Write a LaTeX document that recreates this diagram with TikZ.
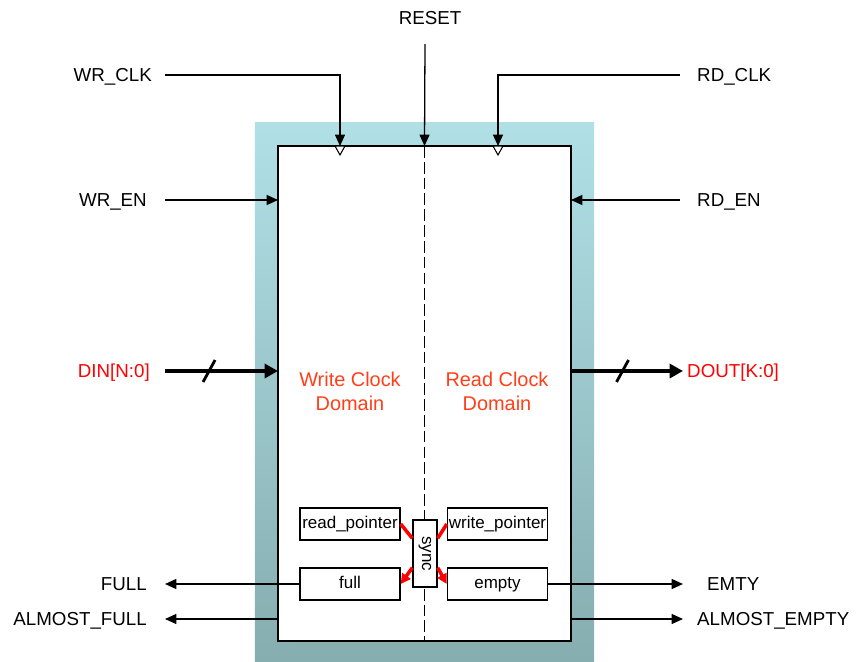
\documentclass[tikz,border=0pt]{standalone}
\usepackage{fontspec}
\setmainfont{Liberation Sans}
\usetikzlibrary{arrows.meta, positioning, calc}
\definecolor{frametop}{HTML}{B0E0E6}
\definecolor{framebot}{HTML}{86ADB0}
\definecolor{busred}{HTML}{FF0000}
\definecolor{domred}{HTML}{FF3F1A}

\begin{document}
\begin{tikzpicture}[
  x=0.03cm, y=-0.03cm,
  lbl/.style={font=\fontsize{16}{19}\selectfont, text height=0.41cm, text depth=0pt, inner ysep=0pt},
  lblL/.style={lbl, anchor=east, inner xsep=#1},
  lblR/.style={lbl, anchor=west, inner xsep=#1},
  part/.style={draw, line width=1.2pt, fill=white, minimum width=3cm, minimum height=0.96cm, inner sep=0pt, text height=0.33cm, text depth=0.08cm, font=\fontsize{14.5}{17}\selectfont},
  domlabel/.style={align=center, text=domred, font=\fontsize{17}{20.4}\selectfont},
  sig/.style={line width=1.1pt},
  bus/.style={line width=3.4pt},
  redline/.style={draw=busred, line width=3pt},
  >={Triangle[length=3.4mm, width=3mm]}
]
\useasboundingbox (0,0) rectangle (856,661);

% FIFO body
\node[minimum width=10.17cm, minimum height=16.14cm, inner sep=0pt, outer sep=0pt, top color=frametop, bottom color=framebot] (frame) at (424.5,392) {};
\node[draw, line width=1.4pt, fill=white, minimum width=8.79cm, minimum height=14.85cm, inner sep=0pt, outer sep=0pt] (fifo) at (424.5,393.5) {};
\draw[line width=1.3pt, dash pattern=on 10pt off 3.5pt] (fifo.north) -- (fifo.south);

\node[domlabel] (wrdom) at (350,391) {Write Clock\\Domain};
\node[domlabel] (rddom) at (497,391) {Read Clock\\Domain};

% pointers and flags
\node[part] (rdptr) at (350,524) {read\_pointer};
\node[part] (wrptr) at (497.5,524) {write\_pointer};
\node[part] (full) at (350,584) {full};
\node[part] (empty) at (497.5,584) {empty};
\node[draw, line width=1.2pt, fill=white, minimum width=0.72cm, minimum height=2.01cm, inner sep=0pt] (sync) at (425,553.5) {};
\node[rotate=-90, font=\fontsize{14.5}{17}\selectfont] (synctxt) at (sync) {sync};

\draw[redline] (rdptr.east) -- ($(sync.north west)+(0,19)$);
\draw[redline, -{Triangle[length=3mm, width=3mm]}] ($(sync.south west)+(0,-20)$) -- (full.east);
\draw[redline] (wrptr.west) -- ($(sync.north east)+(0,19)$);
\draw[redline, -{Triangle[length=3mm, width=3mm]}] ($(sync.south east)+(0,-20)$) -- (empty.west);

% clocks and reset
\node[lbl] (reset) at (430,18) {RESET};
\coordinate (rsttop) at (425,44);
\draw[sig, ->] (rsttop) -- (fifo.north);

\node[lblL=0.39cm] (wrclk) at (165,75) {WR\_CLK};
\node[lblR=0.51cm] (rdclk) at (680,75) {RD\_CLK};
\coordinate (wrtick) at (340,146);
\coordinate (rdtick) at (498,146);
\draw[sig, ->] (wrclk) -| (wrtick);
\draw[sig, ->] (rdclk) -| (rdtick);
\foreach \t in {wrtick, rdtick}
  \draw[line width=0.9pt, fill=white] ($(\t)+(-5,0)$) -- ($(\t)+(5,0)$) -- ($(\t)+(0,9)$) -- cycle;

% enables
\node[lblL=0.54cm] (wren) at (165,200) {WR\_EN};
\node[lblR=0.51cm] (rden) at (680,200) {RD\_EN};
\draw[sig, ->] (wren) -- (wren -| fifo.west);
\draw[sig, ->] (rden) -- (rden -| fifo.east);

% data buses
\node[lblL=0.45cm, text=busred] (din) at (165,371) {DIN[N:0]};
\node[lblR=0.12cm, text=busred] (dout) at (683,371) {DOUT[K:0]};
\draw[bus, -{Triangle[length=4mm, width=4.2mm]}] (din) -- (din -| fifo.west);
\draw[bus, -{Triangle[length=4mm, width=4.2mm]}] (dout -| fifo.east) -- (dout);
\path (din.east) -- (din -| fifo.west) coordinate[pos=0.39] (dinslash);
\path (dout -| fifo.east) -- (dout.west) coordinate[pos=0.46] (doutslash);
\draw[line width=2.4pt] ($(dinslash)+(-6,11)$) -- ($(dinslash)+(6,-11)$);
\draw[line width=2.4pt] ($(doutslash)+(-6,11)$) -- ($(doutslash)+(6,-11)$);

% status flags
\node[lblL=0.54cm] (fullout) at (165,584) {FULL};
\node[lblR=0.72cm] (emptyout) at (683,584) {EMTY};
\node[lblL=0.54cm] (afull) at (165,619) {ALMOST\_FULL};
\node[lblR=0.42cm] (aempty) at (683,619) {ALMOST\_EMPTY};
\draw[sig, ->] (full) -- (fullout);
\draw[sig, ->] (empty) -- (emptyout);
\draw[sig, ->] (afull -| fifo.west) -- (afull);
\draw[sig, ->] (aempty -| fifo.east) -- (aempty);
\end{tikzpicture}
\end{document}
